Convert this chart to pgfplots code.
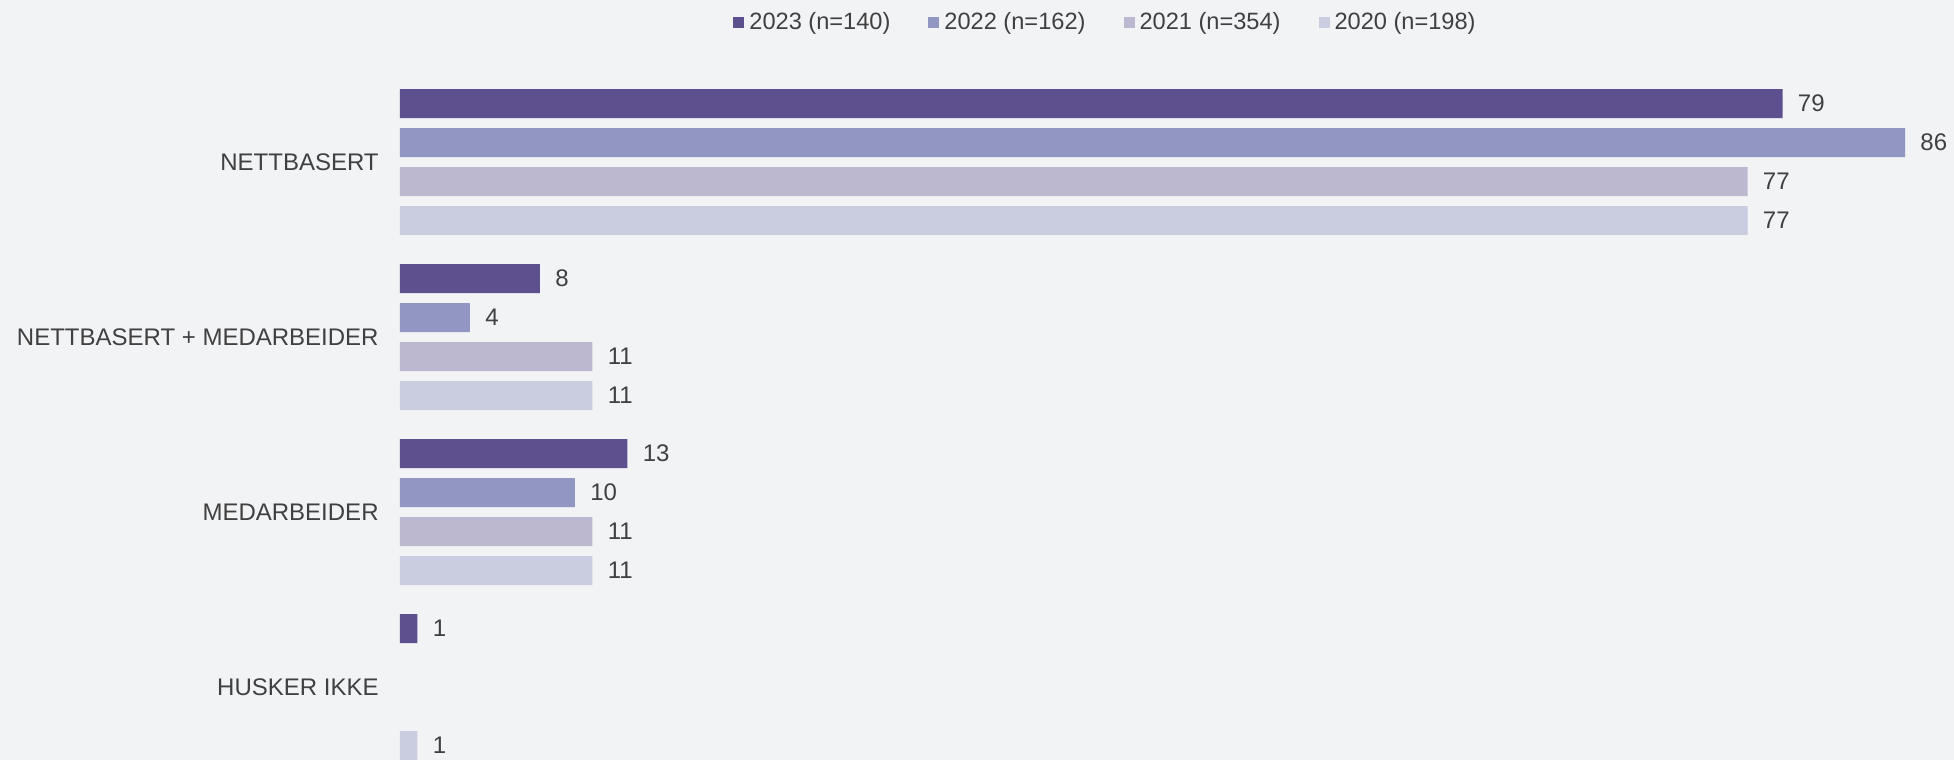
\documentclass[border=0pt]{standalone}
\usepackage{pgfplots}
\pgfplotsset{compat=1.18}
\usepackage{fontspec}
\setmainfont{Liberation Sans}
\definecolor{bg}{HTML}{F2F3F5}
\definecolor{txt}{HTML}{404040}
\definecolor{c2023}{HTML}{5E4F8E}
\definecolor{c2022}{HTML}{9196C3}
\definecolor{c2021}{HTML}{BBB8CF}
\definecolor{c2020}{HTML}{CACDE0}
\begin{document}
\begin{tikzpicture}
\useasboundingbox (-200pt,0) rectangle (777pt,380pt);
\fill[bg] (-200pt,0) rectangle (777pt,380pt);
\begin{axis}[
    at={(0,0)}, anchor=south west,
    scale only axis,
    width=777pt, height=380pt,
    xbar, bar width=14.5pt,
    xmin=0, xmax=88.8,
    ymin=-0.926, ymax=3.417,
    y dir=reverse,
    axis line style={draw=none},
    major tick length=0pt,
    xtick=\empty,
    ytick={0,1,2,3},
    yticklabels={NETTBASERT, NETTBASERT + MEDARBEIDER, MEDARBEIDER, HUSKER IKKE},
    yticklabel style={inner sep=0pt, xshift=-10.5pt, text=txt, font=\fontsize{12}{14}\selectfont},
    clip=false,
    /pgf/number format/assume math mode=true,
    nodes near coords,
    nodes near coords style={anchor=west, inner sep=0pt, xshift=7.5pt, text=txt, font=\fontsize{12}{14}\selectfont},
    legend columns=-1,
    legend style={at={(0.2143,0.9705)}, anchor=west, draw=none, fill=none,
        inner sep=0pt, font=\fontsize{11.8}{14}\selectfont, text=txt,
        nodes={inner sep=0pt},
        /tikz/every odd column/.append style={column sep=2.5pt},
        /tikz/every even column/.append style={column sep=19pt}},
    legend image code/.code={\fill[#1] (0pt,-2.75pt) rectangle (5.5pt,2.75pt);},
]
\addplot[fill=c2023, draw=none, bar shift=29.25pt] coordinates {(79,0) (8,1) (13,2) (1,3)};
\addlegendentry{2023 (n=140)}
\addplot[fill=c2022, draw=none, bar shift=9.75pt] coordinates {(86,0) (4,1) (10,2)};
\addlegendentry{2022 (n=162)}
\addplot[fill=c2021, draw=none, bar shift=-9.75pt] coordinates {(77,0) (11,1) (11,2)};
\addlegendentry{2021 (n=354)}
\addplot[fill=c2020, draw=none, bar shift=-29.25pt] coordinates {(77,0) (11,1) (11,2) (1,3)};
\addlegendentry{2020 (n=198)}
\end{axis}
\end{tikzpicture}
\end{document}
